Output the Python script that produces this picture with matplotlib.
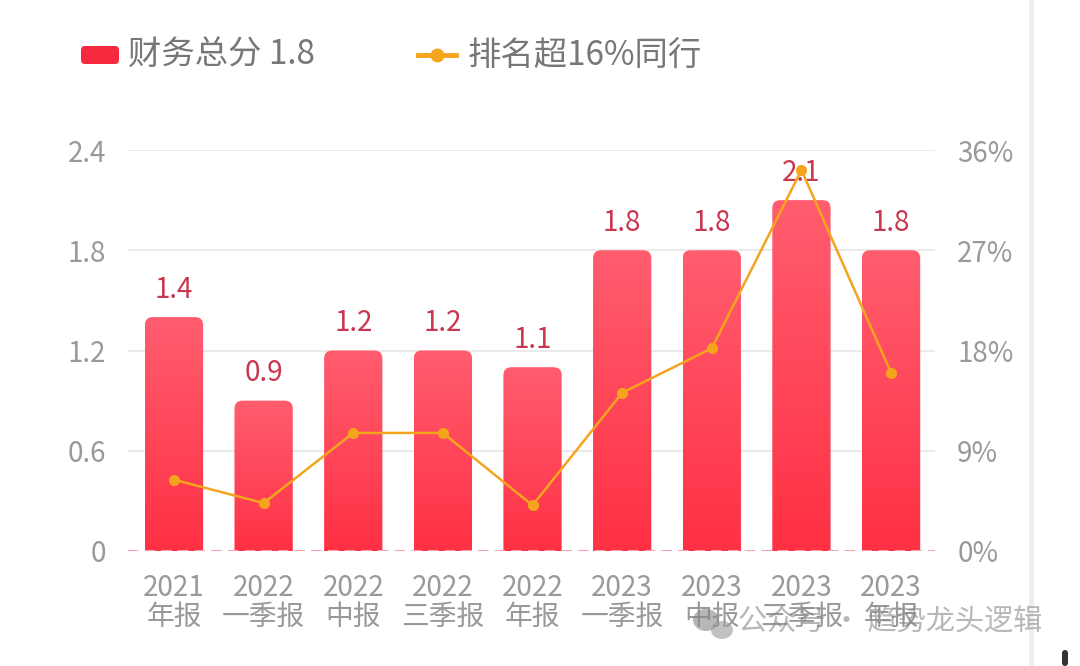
import numpy as np
import matplotlib
matplotlib.use('Agg')
import matplotlib.pyplot as plt
from matplotlib.patches import FancyBboxPatch, Rectangle, Ellipse
from matplotlib.colors import LinearSegmentedColormap
from matplotlib.lines import Line2D
from matplotlib.transforms import IdentityTransform

plt.rcParams['font.family'] = ['Noto Sans CJK SC', 'DejaVu Sans']
plt.rcParams['font.weight'] = 'light'

# data
years = ['2021', '2022', '2022', '2022', '2022', '2023', '2023', '2023', '2023']
periods = ['年报', '一季报', '中报', '三季报', '年报', '一季报', '中报', '三季报', '年报']
scores = [1.4, 0.9, 1.2, 1.2, 1.1, 1.8, 1.8, 2.1, 1.8]
rank_pct = [6.4, 4.3, 10.6, 10.6, 4.1, 14.2, 18.2, 34.2, 16.0]
score_ticks = [0, 0.6, 1.2, 1.8, 2.4]
score_tick_labels = ['0', '0.6', '1.2', '1.8', '2.4']
pct_ticks = [0, 9, 18, 27, 36]
pct_tick_labels = ['0%', '9%', '18%', '27%', '36%']
legend_bar = '财务总分 1.8'
legend_line = '排名超16%同行'
watermark = '公众号 · 趋势龙头逻辑'

BAR_TOP = '#ff5d6f'
BAR_BOTTOM = '#ff3044'
LINE_C = '#f5a41d'
TICK_C = '#999999'
LABEL_C = '#c8374f'

W, H = 1080, 666
fig = plt.figure(figsize=(W / 100, H / 100), dpi=100)
fig.patch.set_facecolor('white')
ax = fig.add_axes([128 / W, 115 / H, 807 / W, 401 / H])

cmap = LinearSegmentedColormap.from_list('bar', [BAR_BOTTOM, BAR_TOP])
grad = np.linspace(0, 1, 256).reshape(-1, 1)
bw = 0.65
x = np.arange(len(scores))
for xi, v in zip(x, scores):
    patch = FancyBboxPatch((xi - bw / 2, -0.2), bw, v + 0.2,
                           boxstyle='round,pad=0,rounding_size=0.09',
                           mutation_aspect=0.53, fc='none', ec='none', zorder=2)
    ax.add_patch(patch)
    im = ax.imshow(grad, cmap=cmap, origin='lower', aspect='auto',
                   extent=[xi - bw / 2, xi + bw / 2, 0, v], zorder=2)
    im.set_clip_path(patch)
    ax.annotate(f'{v:g}', (xi, v), xytext=(0, 9), textcoords='offset points',
                ha='center', va='bottom', fontsize=20, color=LABEL_C, zorder=3)

ax.set_xlim(-0.513, 8.49)
ax.set_ylim(0, 2.4)
ax.set_yticks(score_ticks)
ax.set_yticklabels(score_tick_labels)
for t in score_ticks[1:]:
    ax.axhline(t, color='#e8e8e8', lw=1.3, zorder=1)
ax.axhline(0, color='#f2a3ad', lw=1.5, ls=(0, (5, 3)), zorder=3)
ax.set_xticks(x)
ax.set_xticklabels([f'{y}\n{p}' for y, p in zip(years, periods)], linespacing=0.95)
ax.tick_params(axis='x', length=0, pad=16, labelsize=20, labelcolor=TICK_C)
ax.tick_params(axis='y', length=0, pad=16, labelsize=20, labelcolor=TICK_C)
for s in ax.spines.values():
    s.set_visible(False)

ax2 = ax.twinx()
ax2.plot(x, rank_pct, color=LINE_C, lw=1.8, marker='o', ms=7, zorder=5)
ax2.set_ylim(0, 36)
ax2.set_yticks(pct_ticks)
ax2.set_yticklabels(pct_tick_labels)
ax2.tick_params(axis='y', length=0, pad=16, labelsize=20, labelcolor=TICK_C)
for s in ax2.spines.values():
    s.set_visible(False)

# legend drawn by hand in pixel coordinates
def py(y):
    return H - y

fig.add_artist(FancyBboxPatch((81, py(64)), 38, 18, boxstyle='round,pad=0,rounding_size=4',
                              fc='#f6293f', ec='none', transform=IdentityTransform()))
fig.text(128 / W, 1 - 55 / H, legend_bar, fontsize=24, color='#777777', va='center', ha='left')
fig.add_artist(Line2D([418, 456], [py(55), py(55)], color=LINE_C, lw=3.5,
                      transform=IdentityTransform()))
fig.add_artist(Line2D([437], [py(55)], color=LINE_C, marker='o', ms=9,
                      transform=IdentityTransform()))
fig.text(468 / W, 1 - 55 / H, legend_line, fontsize=24, color='#777777', va='center', ha='left')

# card edge, scroll indicator and watermark
fig.add_artist(Rectangle((1029, 0), 5, H, fc='#eeeeee', ec='none', transform=IdentityTransform()))
fig.add_artist(FancyBboxPatch((1062, 0), 6, 16, boxstyle='round,pad=0,rounding_size=3',
                              fc='#333333', ec='none', transform=IdentityTransform()))
fig.add_artist(Ellipse((706, py(620)), 26, 22, fc='#888888', alpha=0.6, ec='none',
                       transform=IdentityTransform()))
fig.add_artist(Ellipse((722, py(630)), 22, 18, fc='#999999', alpha=0.6, ec='none',
                       transform=IdentityTransform()))
fig.text(738 / W, 1 - 623 / H, watermark, fontsize=21, color='#888888', alpha=0.6,
         va='center', ha='left')

fig.savefig('out.png', dpi=100)
